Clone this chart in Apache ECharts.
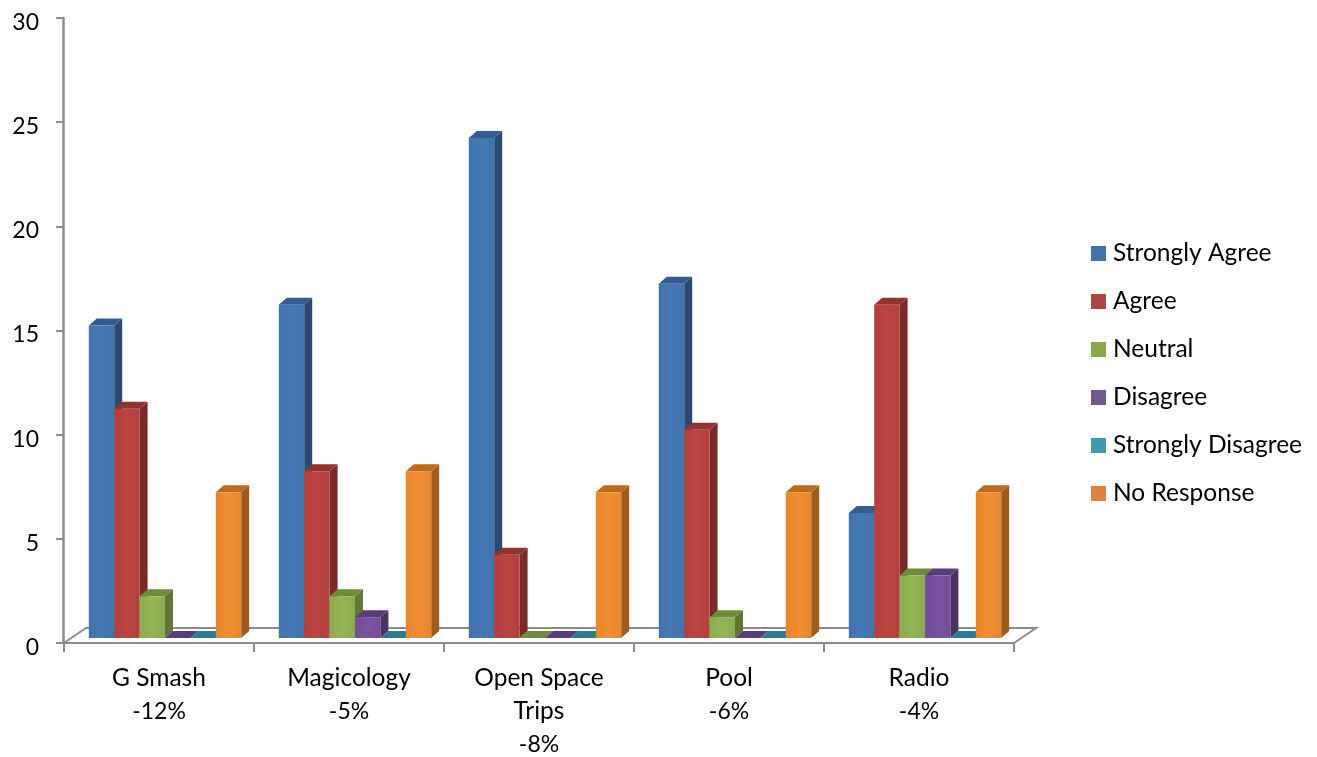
<!DOCTYPE html>
<html><head><meta charset="utf-8">
<style>html,body{margin:0;padding:0;background:#fff}#c{width:1317px;height:757px}</style>
<script src="https://cdn.jsdelivr.net/npm/echarts@6/dist/echarts.min.js"></script>
</head><body><div id="c"></div>
<script>
const categories = ['G Smash\n-12%','Magicology\n-5%','Open Space\nTrips\n-8%','Pool\n-6%','Radio\n-4%'];
const yTicks = [0,5,10,15,20,25,30];
const stronglyAgree = [15,16,24,17,6];
const agree = [11,8,4,10,16];
const neutral = [2,2,0,1,3];
const disagree = [0,1,0,0,3];
const stronglyDisagree = [0,0,0,0,0];
const noResponse = [7,8,7,7,7];
const seriesNames = ['Strongly Agree','Agree','Neutral','Disagree','Strongly Disagree','No Response'];
const seriesValues = [stronglyAgree,agree,neutral,disagree,stronglyDisagree,noResponse];
const frontColors = ['#4273ab','#b0413e','#8cab50','#734f96','#3b97b0','#e5862f'];
const topColors   = ['#355c8c','#8f3431','#6f8a3e','#5a3d78','#2e7a8e','#bb6c22'];
const sideColors  = ['#2a4a72','#7a2b29','#5f7737','#4b3263','#27677a','#a05c1c'];
const legendColors = ['#4472a6','#aa4643','#8ba84f','#71588f','#4198af','#db843d'];

const DX = 8, DY = 7, LIFT = 5, GROUP_SHIFT = 6, BAR_FRACTION = 25.4/190;
const AXIS = '#8c8c8c';
const INK = '#000';
const font = 'Lato';

function barItem(si){
  return function(params, api){
    const cat = api.value(0), val = api.value(1);
    const band = api.size([1,0])[0];
    const w = band*BAR_FRACTION;
    const base = api.coord([cat,0]);
    const top = api.coord([cat,val]);
    const x = base[0] + GROUP_SHIFT + (si-3)*w;
    const y0 = base[1]-LIFT, y1 = top[1]-LIFT;
    const x1 = x+w;
    const kids = [];
    kids.push({type:'polygon',shape:{points:[[x1,y0],[x1+DX,y0-DY],[x1+DX,y1-DY],[x1,y1]]},style:{fill:sideColors[si]}});
    kids.push({type:'polygon',shape:{points:[[x,y1],[x1,y1],[x1+DX,y1-DY],[x+DX,y1-DY]]},style:{fill:topColors[si]}});
    if(val>0) kids.push({type:'rect',shape:{x:x,y:y1,width:w,height:y0-y1},style:{
      fill:new echarts.graphic.LinearGradient(0,0,1,0,[{offset:0,color:frontColors[si]},{offset:.5,color:echarts.color.lift(frontColors[si],-0.06)},{offset:1,color:frontColors[si]}])}});
    return {type:'group',children:kids};
  };
}
function floorItem(params, api){
  const band = api.size([1,0])[0];
  const a = api.coord([0,0]);
  const xl = a[0]-band/2, xr = xl+band*categories.length, y = a[1];
  return {type:'polyline',shape:{points:[[xl,y],[xl+22,y-15],[xr+22,y-15],[xr,y]]},style:{fill:null,stroke:AXIS,lineWidth:2}};
}
const series = [{type:'custom',name:'floor',silent:true,z:1,renderItem:floorItem,data:[[0,0]],encode:{x:0,y:1}}];
seriesNames.forEach((n,si)=>{
  series.push({type:'custom',name:n,z:3+si,renderItem:barItem(si),silent:true,
    itemStyle:{color:legendColors[si]},encode:{x:0,y:1},
    data:seriesValues[si].map((v,i)=>[i,v])});
});
const chart = echarts.init(document.getElementById('c'),null,{renderer:'canvas'});
chart.setOption({
  animation:false,
  backgroundColor:'#fff',
  grid:{left:64,top:18,width:950,height:625,containLabel:false,outerBoundsMode:'none'},
  xAxis:{type:'category',data:categories,boundaryGap:true,
    axisLine:{show:true,onZero:false,lineStyle:{color:AXIS,width:2}},
    axisTick:{show:true,length:9,inside:false,alignWithLabel:false,lineStyle:{color:AXIS,width:2}},
    splitLine:{show:false},
    axisLabel:{interval:0,color:INK,fontFamily:font,margin:19,
      formatter:function(v){
        const parts=v.split('\n');
        const pct=parts.pop();
        return parts.map(p=>'{n|'+p+'}').concat('{p|'+pct+'}').join('\n');
      },
      rich:{n:{fontFamily:font,fontSize:24.5,lineHeight:33,color:INK},p:{fontFamily:font,fontSize:23,lineHeight:33,color:INK}}}},
  yAxis:{type:'value',min:0,max:30,interval:5,offset:1,
    axisLine:{show:true,lineStyle:{color:AXIS,width:2.5}},
    axisTick:{show:true,length:7,lineStyle:{color:AXIS,width:2}},
    splitLine:{show:false},
    axisLabel:{color:INK,fontFamily:font,fontSize:23,margin:24,verticalAlign:'top',lineHeight:9,
      formatter:v=>yTicks.includes(v)?String(v):''}},
  legend:{show:true,orient:'vertical',left:1091,top:241,padding:0,itemWidth:15,itemHeight:15,itemGap:23,
    data:seriesNames,icon:'rect',selectedMode:false,
    textStyle:{color:INK,fontFamily:font,fontSize:24.5,padding:[0,0,0,2],lineHeight:24,height:24}},
  series:series
});
</script></body></html>
